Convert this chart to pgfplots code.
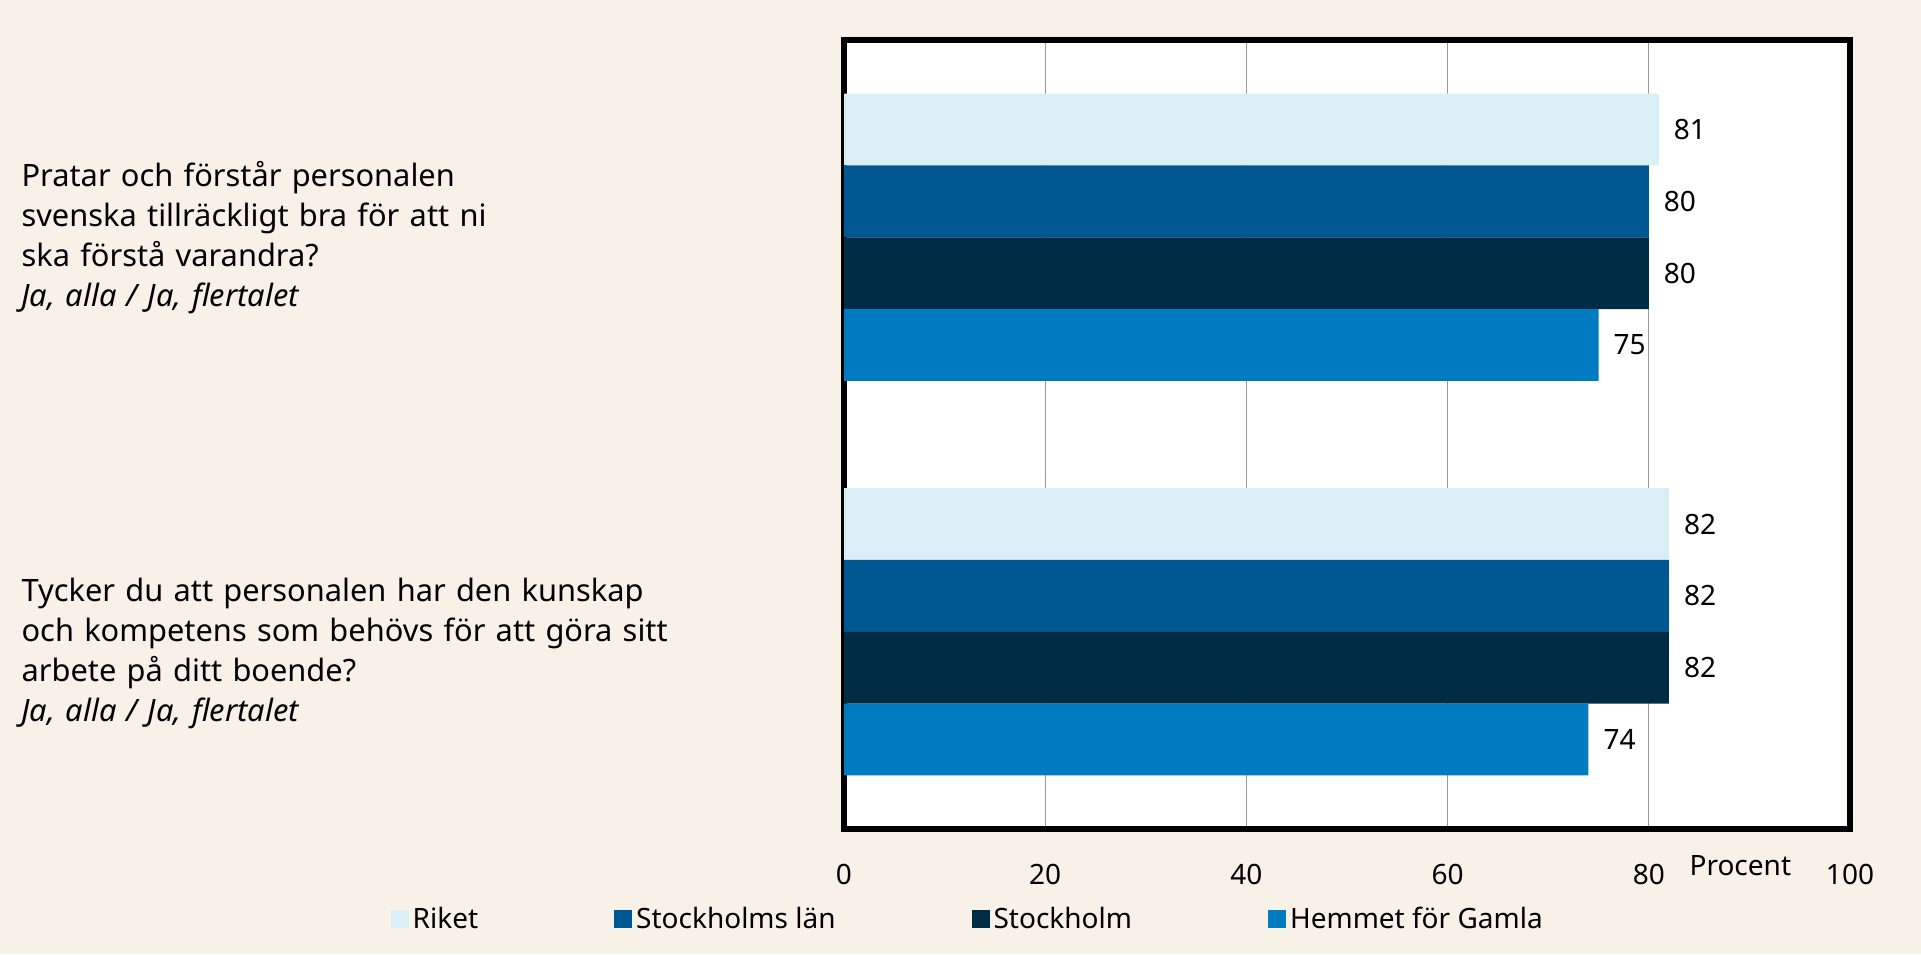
\documentclass[border=0pt]{standalone}
\usepackage{fontspec}
\setmainfont{Noto Sans}
\usepackage{pgfplots}
\pgfplotsset{compat=1.18}
\definecolor{bg}{HTML}{F8F1E7}
\definecolor{riket}{HTML}{DAEEF5}
\definecolor{lan}{HTML}{005893}
\definecolor{sthlm}{HTML}{002B45}
\definecolor{hem}{HTML}{007AC0}
\begin{document}
\begin{tikzpicture}
\fill[bg] (0,0) rectangle (960.5pt,477pt);
\useasboundingbox (0,0) rectangle (960.5pt,477pt);
\begin{axis}[
    at={(422pt,62.5pt)}, anchor=south west,
    scale only axis, width=503pt, height=394.5pt,
    xbar, bar width=0.182,
    xmin=0, xmax=100, ymin=-0.5, ymax=1.5, y dir=reverse,
    xtick={0,20,...,100}, ytick={0,1},
    yticklabels={{Pratar och förstår personalen\\svenska tillräckligt bra för att ni\\ska förstå varandra?\\\textit{Ja, alla / Ja, flertalet}},
                 {Tycker du att personalen har den kunskap\\och kompetens som behövs för att göra sitt\\arbete på ditt boende?\\\textit{Ja, alla / Ja, flertalet}}},
    major tick length=0pt,
    xmajorgrids, major grid style={gray!80, line width=0.6pt},
    axis line style={line width=3pt},
    axis background/.style={fill=white},
    font=\fontsize{14}{20}\selectfont,
    /pgf/number format/assume math mode=true,
    yticklabel style={anchor=east, text width=411pt, align=left, inner sep=0pt,
        font=\fontsize{15.4}{20}\selectfont, yshift=-11pt*\ticknum},
    xticklabel style={yshift=-14pt},
    xlabel={Procent},
    xlabel style={at={(axis description cs:0.891,-0.047)}, anchor=center},
    nodes near coords,
    nodes near coords style={anchor=west, xshift=4pt, text=black},
    legend style={at={(0.124,-0.114)}, anchor=center, draw=none, fill=none,
        legend columns=4, /tikz/every even column/.append style={column sep=66pt}},
    legend image code/.code={\fill[#1,draw=none] (0pt,-4.5pt) rectangle (9pt,4.5pt);},
]
\addplot[fill=riket, draw=none, bar shift=-0.273] coordinates {(81,0) (82,1)};
\addplot[fill=lan, draw=none, bar shift=-0.091] coordinates {(80,0) (82,1)};
\addplot[fill=sthlm, draw=none, bar shift=0.091] coordinates {(80,0) (82,1)};
\addplot[fill=hem, draw=none, bar shift=0.273] coordinates {(75,0) (74,1)};
\legend{Riket, Stockholms län, Stockholm, Hemmet för Gamla}
\end{axis}
\end{tikzpicture}
\end{document}
